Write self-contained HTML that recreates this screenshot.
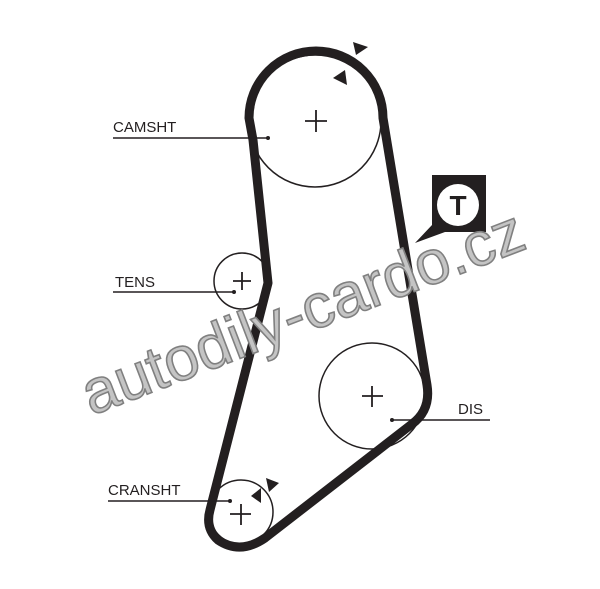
<!DOCTYPE html>
<html><head><style>body{margin:0;background:#fff}svg{display:block}</style></head><body>
<svg width="600" height="589" viewBox="0 0 600 589" xmlns="http://www.w3.org/2000/svg">
<g fill="none" stroke="#231f20">
<circle cx="315" cy="121" r="66" stroke-width="1.5"/>
<circle cx="242" cy="281" r="28" stroke-width="1.5"/>
<circle cx="372" cy="396" r="53" stroke-width="1.5"/>
<circle cx="241" cy="512" r="32" stroke-width="1.5"/>
<path d="M249,118 A67,67 0 0 1 383,118 L427,385 Q431,410 412,424 L265,538 Q240,555 218,540 Q205,528 210,510 L268,283 L253,140 Z" stroke-width="9" stroke-linejoin="round"/>
<g stroke-width="1.8">
<path d="M305,121h22M316,110v22"/>
<path d="M233,281h18M242,272v18"/>
<path d="M362,396h21M372,386v21"/>
<path d="M230,514h21M241,504v21"/>
</g>
<g stroke-width="1.5">
<path d="M113,138H268"/>
<path d="M113,292H234"/>
<path d="M108,501H230"/>
<path d="M392,420H490"/>
</g>
</g>
<g fill="#231f20">
<circle cx="268" cy="138" r="2"/><circle cx="234" cy="292" r="2"/><circle cx="230" cy="501" r="2"/><circle cx="392" cy="420" r="2"/>
<polygon points="353,42 368,47 356,55"/>
<polygon points="333,78 345,70 347,85"/>
<polygon points="266,478 279,483 269,492"/>
<polygon points="251,496 261,488 261,503"/>
<path d="M432,175H486V232H445L415,243L432,225Z"/>
</g>
<circle cx="458" cy="205" r="21" fill="#fff"/>
<text x="458" y="215" font-family="Liberation Sans, sans-serif" font-size="28" font-weight="bold" text-anchor="middle" fill="#231f20">T</text>
<g font-family="Liberation Sans, sans-serif" font-size="15" fill="#231f20">
<text x="113" y="132">CAMSHT</text>
<text x="115" y="287">TENS</text>
<text x="108" y="495">CRANSHT</text>
<text x="458" y="414">DIS</text>
</g>
<text x="303" y="333" transform="rotate(-21 303 313)" font-family="Liberation Sans, sans-serif" font-size="62" text-anchor="middle" fill="#c4c4c4" stroke="#808080" stroke-width="1.6">autodily-cardo.cz</text>
</svg>
</body></html>
